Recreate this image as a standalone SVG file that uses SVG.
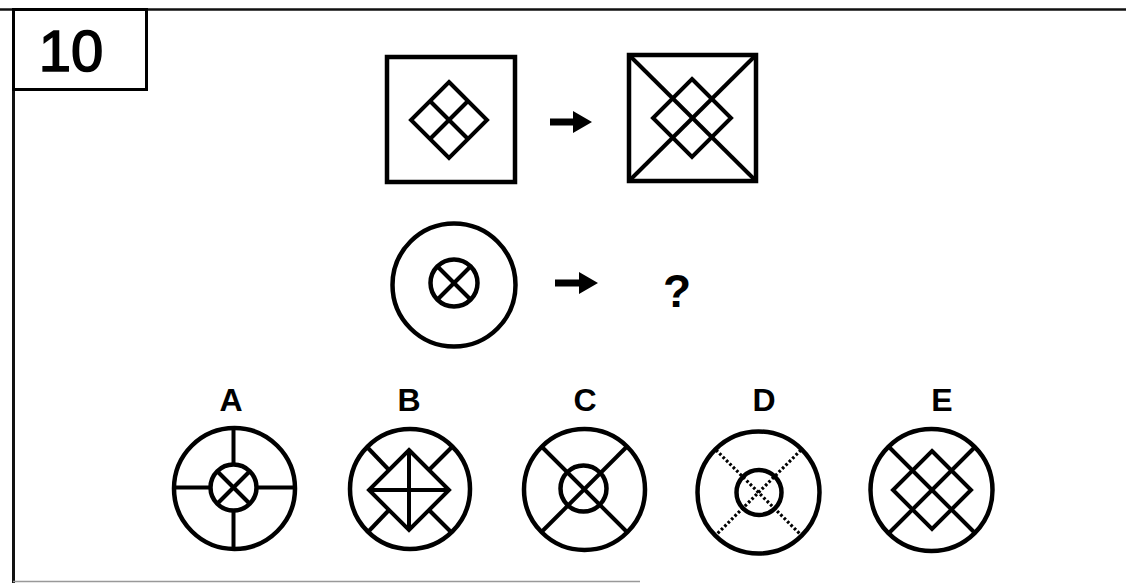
<svg xmlns="http://www.w3.org/2000/svg" width="1126" height="583" viewBox="0 0 1126 583">
<style>
.s{fill:none;stroke:#000;stroke-width:4;stroke-linejoin:miter}
.c{fill:none;stroke:#000;stroke-width:4.5}
.d{fill:none;stroke:#000;stroke-width:3.2;stroke-dasharray:2.6 2.2}
.lbl{font-family:"Liberation Sans",Arial,sans-serif;font-weight:bold;font-size:32px;text-anchor:middle;fill:#000}
</style>
<defs>
<g id="xsmall"><line x1="-17" y1="-17" x2="17" y2="17" class="s"/><line x1="17" y1="-17" x2="-17" y2="17" class="s"/></g>
</defs>
<rect width="1126" height="583" fill="#fff"/>
<g id="frame">
<line x1="0" y1="9.5" x2="1126" y2="9.5" stroke="#111" stroke-width="2.5"/>
<line x1="13.5" y1="8" x2="13.5" y2="583" stroke="#111" stroke-width="3"/>
<line x1="13" y1="581.5" x2="640" y2="581.5" stroke="#999" stroke-width="1.5"/>
</g>
<g id="label-10">
<rect x="13.5" y="9.5" width="133" height="80" fill="none" stroke="#000" stroke-width="3"/>
<text x="71" y="71" font-family="Liberation Sans,Arial,sans-serif" font-size="58" text-anchor="middle" stroke="#000" stroke-width="1.6">10</text>
</g>
<g id="square1">
<rect x="387" y="57" width="128" height="125" class="c"/>
<polygon points="449,82 487,120 449,158 411,120" class="s"/>
<line x1="430" y1="101" x2="468" y2="139" class="s"/>
<line x1="468" y1="101" x2="430" y2="139" class="s"/>
</g>
<g id="square2">
<rect x="629" y="55" width="127" height="126" class="c"/>
<line x1="629" y1="55" x2="756" y2="181" class="s"/>
<line x1="756" y1="55" x2="629" y2="181" class="s"/>
<polygon points="692,79 731,118 692,157 653,118" class="s"/>
</g>
<g id="circle-question">
<circle cx="454" cy="285" r="61.5" class="c"/>
<circle cx="454" cy="283" r="23.5" class="c"/>
<use href="#xsmall" x="454" y="283"/>
</g>
<g id="question">
<text x="677" y="307" font-family="Liberation Sans,Arial,sans-serif" font-weight="bold" font-size="46" text-anchor="middle">?</text>
</g>
<g id="connectors">
<polygon points="550,118.5 573,118.5 573,111 592,122 573,133 573,125.5 550,125.5"/>
<polygon points="555,279.5 579,279.5 579,272 598,283 579,294 579,286.5 555,286.5"/>
</g>
<g id="option-A">
<text x="231" y="411" class="lbl">A</text>
<circle cx="234.5" cy="488.5" r="60.5" class="c"/>
<circle cx="233.5" cy="487.5" r="23" class="c"/>
<use href="#xsmall" x="233.5" y="487.5"/>
<line x1="233.5" y1="428" x2="233.5" y2="464.5" class="s"/>
<line x1="233.5" y1="510.5" x2="233.5" y2="549" class="s"/>
<line x1="174" y1="487.5" x2="210.5" y2="487.5" class="s"/>
<line x1="256.5" y1="487.5" x2="295" y2="487.5" class="s"/>
</g>
<g id="option-B">
<text x="409" y="411" class="lbl">B</text>
<circle cx="410" cy="489" r="60" class="c"/>
<polygon points="409,450 449,490 409,530 369,490" class="s"/>
<line x1="409" y1="450" x2="409" y2="530" class="s"/>
<line x1="369" y1="490" x2="449" y2="490" class="s"/>
<line x1="367.5" y1="447.5" x2="389" y2="470" class="s"/>
<line x1="451.5" y1="447.5" x2="429" y2="470" class="s"/>
<line x1="367.5" y1="532.5" x2="389" y2="510" class="s"/>
<line x1="451.5" y1="532.5" x2="429" y2="510" class="s"/>
</g>
<g id="option-C">
<text x="585" y="411" class="lbl">C</text>
<circle cx="584.5" cy="489.5" r="60.5" class="c"/>
<circle cx="583.5" cy="488.5" r="23" class="c"/>
<line x1="541.5" y1="446.5" x2="627" y2="532" class="s"/>
<line x1="627" y1="446.5" x2="541.5" y2="532" class="s"/>
</g>
<g id="option-D">
<text x="764" y="411" class="lbl">D</text>
<circle cx="758.5" cy="492.5" r="61" class="c"/>
<circle cx="759" cy="492.5" r="22.5" class="c"/>
<line x1="716" y1="450" x2="801" y2="535" class="d"/>
<line x1="801" y1="450" x2="716" y2="535" class="d"/>
</g>
<g id="option-E">
<text x="942" y="411" class="lbl">E</text>
<circle cx="931.5" cy="490" r="61" class="c"/>
<polygon points="932,451 971,490 932,529 893,490" class="s"/>
<line x1="889" y1="447" x2="975" y2="533" class="s"/>
<line x1="975" y1="447" x2="889" y2="533" class="s"/>
</g>
</svg>
